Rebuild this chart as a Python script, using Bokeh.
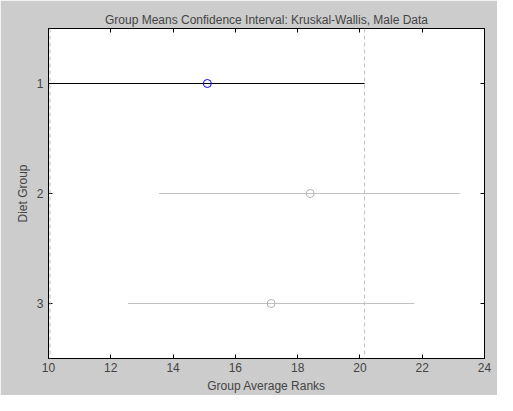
from bokeh.plotting import figure
from bokeh.models import Span, LinearAxis, FixedTicker, Range1d
from bokeh.embed import file_html
from bokeh.resources import INLINE

groups = [1, 2, 3]
means = [15.1, 18.4, 17.15]
lower = [10.05, 13.55, 12.55]
upper = [20.15, 23.2, 21.75]
colors = ["#0000ff", "#b4b4b4", "#b4b4b4"]
line_colors = ["#000000", "#c0c0c0", "#c0c0c0"]
xticks = list(range(10, 25, 2))

p = figure(width=497, height=395, output_backend="svg", toolbar_location=None,
           x_range=Range1d(10, 24), y_range=Range1d(3.5, 0.5),
           min_border_left=48, min_border_right=13, min_border_top=28, min_border_bottom=25,
           title="Group Means Confidence Interval: Kruskal-Wallis, Male Data")
p.background_fill_color = "white"
p.border_fill_color = "#cccccc"
p.outline_line_color = "black"
p.grid.visible = False
p.title.align = "center"
p.title.text_font = "Liberation Sans"
p.title.text_font_style = "normal"
p.title.text_font_size = "12px"
p.title.standoff = 4

for x0, x1, g, lc in zip(lower, upper, groups, line_colors):
    p.segment(x0=x0, y0=g, x1=x1, y1=g, line_color=lc, line_width=1)
p.scatter(means, groups, size=8, fill_color=None, line_color=colors, line_width=1)

for xv in [lower[0], upper[0]]:
    p.add_layout(Span(location=xv, dimension="height", line_color="#c0c0c0",
                      line_dash="4 3", line_width=1))

p.xaxis.ticker = FixedTicker(ticks=xticks)
p.yaxis.ticker = FixedTicker(ticks=groups)
p.xaxis.axis_label = "Group Average Ranks"
p.yaxis.axis_label = "Diet Group"
for ax in [p.xaxis[0], p.yaxis[0]]:
    ax.major_tick_in = 4
    ax.major_tick_out = 0
    ax.minor_tick_line_color = None
    ax.axis_line_color = "black"
    ax.major_label_text_font = "Liberation Sans"
    ax.major_label_text_font_size = "12px"
    ax.axis_label_text_font = "Liberation Sans"
    ax.axis_label_text_font_size = "12px"
    ax.axis_label_text_font_style = "normal"
    ax.axis_label_standoff = 4
p.xaxis.major_label_standoff = 4

top = LinearAxis(ticker=FixedTicker(ticks=xticks), major_label_text_color=None,
                 major_label_text_font_size="1px", major_label_standoff=0,
                 major_tick_in=4, major_tick_out=0, minor_tick_line_color=None)
right = LinearAxis(ticker=FixedTicker(ticks=groups), major_label_text_color=None,
                   major_label_text_font_size="1px", major_label_standoff=0,
                   major_tick_in=4, major_tick_out=0, minor_tick_line_color=None)
p.add_layout(top, "above")
p.add_layout(right, "right")

open("out.html", "w").write(file_html(p, INLINE))
